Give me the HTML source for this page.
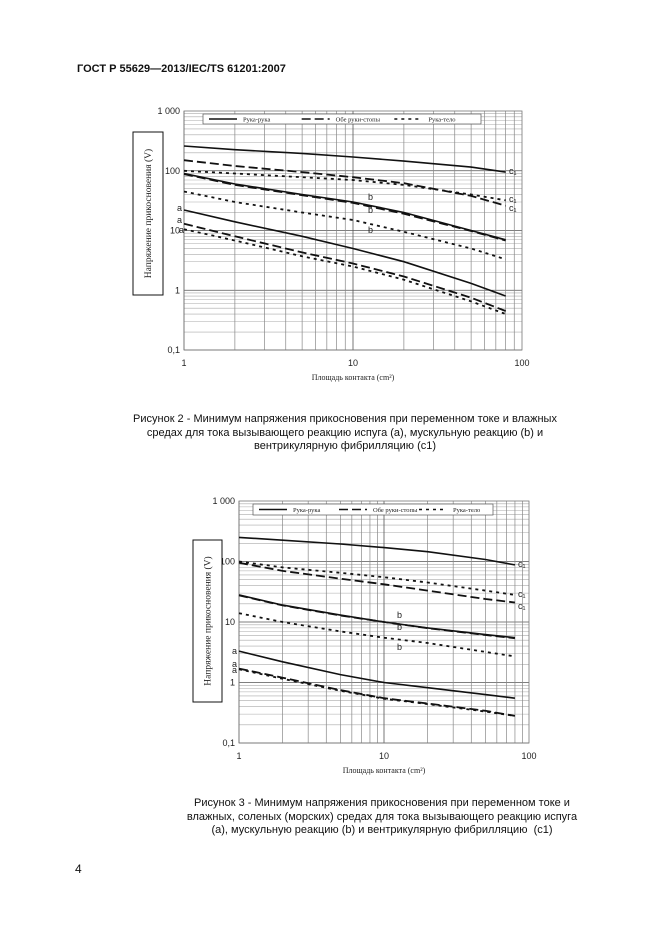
<!DOCTYPE html>
<html><head><meta charset="utf-8">
<style>
body{margin:0;background:#fff;}
#page{position:relative;width:661px;height:936px;background:#fff;overflow:hidden;font-family:"Liberation Sans","DejaVu Sans",sans-serif;color:#111;}
.t{position:absolute;white-space:nowrap;}
.cap{position:absolute;text-align:center;font-size:11px;line-height:13.5px;}
svg{position:absolute;left:0;top:0;}
</style></head>
<body>
<div id="page">
<div class="t" style="left:77px;top:63px;font-size:11px;font-weight:bold;">ГОСТ Р 55629—2013/IEC/TS 61201:2007</div>
<svg id="chart" width="661" height="936"></svg>
<div class="cap" style="left:120px;width:450px;top:413px;">Рисунок 2 - Минимум напряжения прикосновения при переменном токе и влажных<br>средах для тока вызывающего реакцию испуга (а), мускульную реакцию (b) и<br>вентрикулярную фибрилляцию (с1)</div>
<div class="cap" style="left:157px;width:450px;top:797px;">Рисунок 3 - Минимум напряжения прикосновения при переменном токе и<br>влажных, соленых (морских) средах для тока вызывающего реакцию испуга<br>(а), мускульную реакцию (b) и вентрикулярную фибрилляцию &nbsp;(с1)</div>
<div class="t" style="left:75px;top:862px;font-size:12px;">4</div>
</div>
<script>
// shared x categories (contact area, cm2)
const areas = [1, 2, 5, 10, 20, 50, 80];
const yTicks = ["0,1", "1", "10", "100", "1 000"];
const xTicks = ["1", "10", "100"];
// Figure 2 series
const f2SolidC = [260, 225, 195, 170, 145, 115, 95];
const f2DashC = [150, 120, 95, 78, 62, 38, 26];
const f2DotC = [100, 90, 78, 70, 58, 40, 32];
const f2SolidB = [90, 60, 40, 30, 20, 10, 7];
const f2DashB = [88, 58, 39, 29, 19, 9.8, 6.8];
const f2DotB = [45, 30, 20, 15, 9.5, 5, 3.3];
const f2SolidA = [22, 14, 8, 5, 3, 1.3, 0.8];
const f2DashA = [13, 8, 4.3, 2.8, 1.7, 0.75, 0.45];
const f2DotA = [10.5, 6.8, 3.7, 2.5, 1.5, 0.65, 0.4];
// Figure 3 series
const f3SolidC = [250, 225, 195, 170, 145, 108, 88];
const f3DotC = [100, 80, 65, 55, 45, 33, 28];
const f3DashC = [95, 70, 52, 42, 33, 24, 21];
const f3SolidB = [28, 19, 13, 10, 8, 6.2, 5.5];
const f3DashB = [27.5, 18.8, 12.8, 10, 7.9, 6.1, 5.4];
const f3DotB = [14, 10, 7, 5.5, 4.5, 3.2, 2.7];
const f3SolidA = [3.3, 2.2, 1.35, 1.0, 0.82, 0.63, 0.55];
const f3DashA = [1.7, 1.2, 0.75, 0.55, 0.45, 0.34, 0.28];
const f3DotA = [1.65, 1.15, 0.73, 0.54, 0.44, 0.33, 0.28];
const legendLabels = ["Рука-рука", "Обе руки-стопы", "Рука-тело"];

const NS = "http://www.w3.org/2000/svg";
const svg = document.getElementById('chart');
function mk(tag, attrs, parent){const e=document.createElementNS(NS,tag);for(const k in attrs)e.setAttribute(k,attrs[k]);(parent||svg).appendChild(e);return e;}

const styles = {
  solid:{w:1.6,d:""},
  dash:{w:1.8,d:"9,4"},
  dot:{w:1.8,d:"3,4"}
};

function drawChart(cfg){
  const g = mk('g',{});
  
  
  const xs = v => cfg.x0 + (Math.log10(v))/2*(cfg.x1-cfg.x0);
  const ys = v => cfg.y1 - (Math.log10(v)+1)/4*(cfg.y1-cfg.y0);
  for(let d=-1; d<3; d++){
    for(let m=1;m<10;m++){
      const v=m*Math.pow(10,d);
      const y=ys(v);
      const l=mk('line',{x1:cfg.x0,x2:cfg.x1,y1:y,y2:y,stroke:m===1?'#555':'#aaa','stroke-width':m===1?0.8:0.6},g);
      
      
    }
  }
  for(let d=0; d<2; d++){
    for(let m=1;m<10;m++){
      const v=m*Math.pow(10,d);
      const x=xs(v);
      const l=mk('line',{x1:x,x2:x,y1:cfg.y0,y2:cfg.y1,stroke:m===1?'#555':'#888','stroke-width':m===1?0.8:0.7},g);
      
      
    }
  }
  const fr=mk('rect',{x:cfg.x0,y:cfg.y0,width:cfg.x1-cfg.x0,height:cfg.y1-cfg.y0,fill:'none',stroke:'#777','stroke-width':0.8},g);
  
  
  yTicks.forEach((t,i)=>{
    const tx=mk('text',{x:cfg.x0-4,y:ys(Math.pow(10,i-1))+3,'font-size':9,'text-anchor':'end','font-family':'Liberation Sans, sans-serif',fill:'#222'},g);
    tx.textContent=t;
    
    
  });
  xTicks.forEach((t,i)=>{
    const tx=mk('text',{x:xs(Math.pow(10,i)),y:cfg.y1+16,'font-size':9,'text-anchor':'middle','font-family':'Liberation Sans, sans-serif',fill:'#222'},g);
    tx.textContent=t;
    
    
  });
  cfg.series.forEach(s=>{
    const pts=areas.map((a,i)=>xs(a).toFixed(1)+','+ys(s.vals[i]).toFixed(1)).join(' ');
    const st=styles[s.style];
    const p=mk('polyline',{points:pts,fill:'none',stroke:'#111','stroke-width':st.w,'stroke-dasharray':st.d},g);
    
    
  });
  cfg.labels.forEach(lb=>{
    const tx=mk('text',{x:lb[0],y:lb[1],'font-size':9,'font-family':'Liberation Sans, sans-serif',fill:'#222'},g);
    tx.textContent=lb[2];
    
    
  });
  const L=cfg.legend;
  const lr=mk('rect',{x:L[0],y:L[1],width:L[2],height:L[3],fill:'#fff',stroke:'#555','stroke-width':0.7},g);
  
  
  const seg=L[2]/3;
  ['solid','dash','dot'].forEach((k,i)=>{
    const lx=L[0]+6+i*seg, ly=L[1]+L[3]/2;
    const ln=mk('line',{x1:lx,x2:lx+28,y1:ly,y2:ly,stroke:'#111','stroke-width':1.6,'stroke-dasharray':styles[k].d},g);
    
    
    const tx=mk('text',{x:lx+34,y:ly+2.5,'font-size':6.5,'font-family':'Liberation Serif, serif',fill:'#222'},g);
    tx.textContent=legendLabels[i];
    
    
  });
  const B=cfg.ybox;
  const br=mk('rect',{x:B[0],y:B[1],width:B[2],height:B[3],fill:'#fff',stroke:'#111','stroke-width':1},g);
  
  
  const cx=B[0]+B[2]/2+3, cy=B[1]+B[3]/2;
  const yt=mk('text',{x:cx,y:cy,'font-size':9.5,'text-anchor':'middle','font-family':'Liberation Serif, serif',fill:'#222',transform:`rotate(-90 ${cx} ${cy})`},g);
  yt.textContent='Напряжение прикосновения (V)';
  
  
  const xt=mk('text',{x:(cfg.x0+cfg.x1)/2,y:cfg.y1+30,'font-size':8,'text-anchor':'middle','font-family':'Liberation Serif, serif',fill:'#222'},g);
  xt.textContent='Площадь контакта (cm²)';
  
  
}

drawChart({name:'figure-2-chart',x0:184,x1:522,y0:111,y1:350,
  legend:[203,114,278,10], ybox:[133,132,30,163],
  series:[
    {id:'hand-hand-c1',style:'solid',vals:f2SolidC},
    {id:'hands-feet-c1',style:'dash',vals:f2DashC},
    {id:'hand-body-c1',style:'dot',vals:f2DotC},
    {id:'hand-hand-b',style:'solid',vals:f2SolidB},
    {id:'hands-feet-b',style:'dash',vals:f2DashB},
    {id:'hand-body-b',style:'dot',vals:f2DotB},
    {id:'hand-hand-a',style:'solid',vals:f2SolidA},
    {id:'hands-feet-a',style:'dash',vals:f2DashA},
    {id:'hand-body-a',style:'dot',vals:f2DotA}],
  labels:[[509,174,'c₁'],[509,202,'c₁'],[509,211,'c₁'],[368,200,'b'],[368,213,'b'],[368,233,'b'],[177,211,'a'],[177,223,'a'],[179,233,'a']]
});
drawChart({name:'figure-3-chart',x0:239,x1:529,y0:501,y1:743,
  legend:[253,504,240,11], ybox:[193,540,29,162],
  series:[
    {id:'hand-hand-c1',style:'solid',vals:f3SolidC},
    {id:'hand-body-c1',style:'dot',vals:f3DotC},
    {id:'hands-feet-c1',style:'dash',vals:f3DashC},
    {id:'hand-hand-b',style:'solid',vals:f3SolidB},
    {id:'hands-feet-b',style:'dash',vals:f3DashB},
    {id:'hand-body-b',style:'dot',vals:f3DotB},
    {id:'hand-hand-a',style:'solid',vals:f3SolidA},
    {id:'hands-feet-a',style:'dash',vals:f3DashA},
    {id:'hand-body-a',style:'dot',vals:f3DotA}],
  labels:[[518,567,'c₁'],[518,597,'c₁'],[518,609,'c₁'],[397,618,'b'],[397,630,'b'],[397,650,'b'],[232,654,'a'],[232,667,'a'],[232,673,'a']]
});
</script>
</body></html>
